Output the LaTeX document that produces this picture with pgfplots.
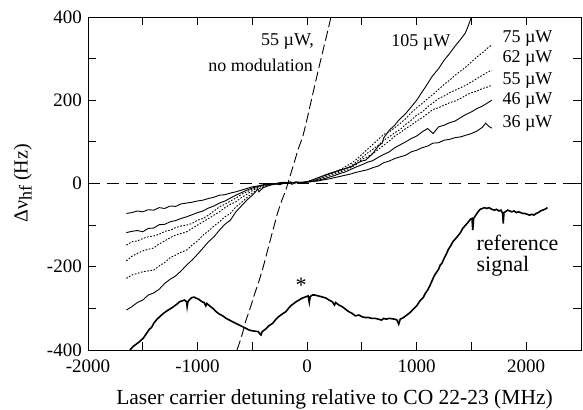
\documentclass[border=0pt]{standalone}
\usepackage{fontspec}
\setmainfont{Liberation Serif}
\usepackage{pgfplots}
\pgfplotsset{compat=1.18}
\usetikzlibrary{calc}
\begin{document}
\fontsize{18}{21}\selectfont
\begin{tikzpicture}
\begin{axis}[name=ax, scale only axis, width=493pt, height=333pt,
 xmin=-2000, xmax=2500, ymin=-400, ymax=400,
 xtick={-2000,-1000,0,1000,2000}, xticklabels={-2000,-1000,0,1000,2000},
 minor xtick={-1500,-500,500,1500,2500},
 ytick={-400,-200,0,200,400}, yticklabels={-400,-200,0,200,400},
 minor ytick={-300,-100,100,300},
 tick align=inside, major tick length=8pt, minor tick length=8pt,
 tick style={black, line width=0.8pt}, axis line style={line width=0.8pt},
 tick label style={font=\fontsize{19}{21}\selectfont},
 xticklabel style={yshift=-4pt},
 label style={font=\fontsize{21.5}{24}\selectfont},
 xlabel={Laser carrier detuning relative to CO 22-23 (MHz)},
 ylabel={Δν\raisebox{-0.45ex}{\fontsize{18}{20}\selectfont hf} (Hz)},
 xlabel style={yshift=-4pt},
 ylabel style={yshift=3pt, font=\fontsize{20}{22}\selectfont},
 clip=true]
% zero line
\addplot[black, line width=0.9pt, dash pattern=on 12pt off 7pt] coordinates {(-2000,0) (2500,0)};
% 36 uW
\addplot[black, line width=0.9pt] coordinates {
(-1650,-72) (-1600,-70) (-1550,-66) (-1500,-68) (-1450,-63) (-1400,-64) (-1350,-58) (-1300,-60) (-1250,-54) (-1200,-55) (-1150,-49) (-1100,-47) (-1050,-45) (-1000,-42) (-950,-40) (-900,-36) (-850,-33) (-800,-28) (-750,-27) (-700,-23) (-650,-20) (-600,-16) (-550,-12) (-500,-8) (-450,-6) (-400,-3) (-350,0) (-300,-1) (-250,2) (-200,3) (-150,1) (-100,4) (-50,2) (0,3) (50,5) (100,6) (150,9) (200,11) (250,14) (300,17) (350,20) (400,23) (450,27) (500,30) (550,33) (600,38) (650,42) (700,50) (750,54) (800,60) (850,64) (900,68) (950,76) (1000,80) (1050,86) (1100,90) (1150,97) (1200,98) (1250,104) (1300,106) (1350,110) (1400,112) (1450,116) (1500,120) (1550,126) (1600,135) (1630,145) (1660,137) (1685,133)};
% 46 uW
\addplot[black, line width=0.9pt] coordinates {
(-1650,-118) (-1600,-115) (-1550,-113) (-1500,-116) (-1450,-108) (-1400,-107) (-1350,-99) (-1300,-98) (-1250,-92) (-1200,-89) (-1150,-84) (-1100,-80) (-1050,-75) (-1000,-70) (-950,-66) (-900,-59) (-850,-54) (-800,-47) (-750,-42) (-700,-35) (-650,-28) (-600,-22) (-550,-16) (-500,-11) (-450,-7) (-400,-4) (-350,-2) (-300,0) (-250,-3) (-200,2) (-150,1) (-100,3) (-50,2) (0,4) (50,5) (100,8) (150,11) (200,15) (250,19) (300,24) (350,28) (400,34) (450,40) (500,45) (550,51) (600,55) (650,63) (700,70) (750,76) (800,86) (850,93) (900,100) (950,108) (1000,114) (1050,124) (1100,132) (1150,120) (1200,136) (1250,140) (1300,146) (1350,150) (1400,158) (1450,166) (1500,172) (1550,180) (1600,186) (1650,194) (1685,200)};
% 55 uW
\addplot[black, line width=0.9pt, dash pattern=on 1.6pt off 1.6pt] coordinates {
(-1650,-148) (-1600,-140) (-1550,-138) (-1500,-132) (-1450,-128) (-1400,-126) (-1350,-122) (-1300,-115) (-1250,-112) (-1200,-106) (-1150,-102) (-1100,-100) (-1050,-96) (-1000,-88) (-950,-84) (-900,-76) (-850,-66) (-800,-56) (-750,-50) (-700,-42) (-650,-35) (-600,-26) (-550,-20) (-500,-14) (-450,-9) (-400,-6) (-350,-3) (-300,-1) (-250,0) (-200,1) (-150,3) (-100,2) (-50,3) (0,4) (100,10) (200,18) (300,27) (400,38) (450,46) (500,58) (550,64) (600,72) (650,82) (700,92) (750,102) (800,114) (850,122) (900,132) (950,140) (1000,150) (1050,158) (1100,168) (1150,178) (1200,182) (1250,188) (1300,194) (1350,198) (1400,204) (1450,212) (1500,218) (1550,222) (1600,228) (1650,232) (1685,236)};
% 62 uW
\addplot[black, line width=0.9pt, dash pattern=on 1.6pt off 1.6pt] coordinates {
(-1650,-186) (-1600,-175) (-1550,-168) (-1500,-162) (-1450,-158) (-1400,-155) (-1350,-145) (-1300,-138) (-1250,-130) (-1200,-124) (-1150,-120) (-1100,-116) (-1050,-108) (-1000,-100) (-950,-92) (-900,-84) (-850,-76) (-800,-68) (-750,-58) (-700,-50) (-650,-44) (-600,-34) (-550,-26) (-500,-17) (-450,-10) (-400,-6) (-350,-3) (-300,-1) (-250,1) (-200,0) (-150,2) (-100,3) (-50,2) (0,4) (100,11) (200,20) (300,30) (400,42) (450,52) (500,62) (550,73) (600,82) (650,92) (700,104) (750,112) (800,122) (850,130) (900,142) (950,152) (1000,164) (1050,172) (1100,184) (1150,194) (1200,204) (1250,210) (1300,218) (1350,224) (1400,230) (1450,236) (1500,244) (1550,252) (1600,260) (1650,268) (1685,272)};
% 75 uW
\addplot[black, line width=0.9pt, dash pattern=on 1.6pt off 1.6pt] coordinates {
(-1650,-228) (-1600,-220) (-1550,-216) (-1500,-212) (-1450,-210) (-1400,-208) (-1350,-198) (-1300,-190) (-1250,-178) (-1200,-172) (-1150,-165) (-1100,-160) (-1050,-148) (-1000,-138) (-950,-124) (-900,-114) (-850,-102) (-800,-92) (-750,-80) (-700,-72) (-650,-56) (-600,-46) (-550,-34) (-500,-23) (-450,-14) (-400,-8) (-350,-4) (-300,-1) (-250,0) (-200,2) (-150,1) (-100,3) (-50,2) (0,4) (100,12) (200,22) (300,33) (400,48) (450,58) (500,70) (550,82) (600,94) (650,106) (700,118) (750,124) (800,134) (850,144) (900,156) (950,170) (1000,182) (1050,192) (1100,204) (1150,214) (1200,226) (1250,238) (1300,248) (1350,260) (1400,270) (1450,280) (1500,292) (1550,304) (1600,314) (1650,326) (1680,332)};
% 105 uW
\addplot[black, line width=0.9pt] coordinates {
(-1650,-304) (-1600,-296) (-1550,-286) (-1500,-280) (-1450,-268) (-1400,-263) (-1350,-254) (-1300,-240) (-1250,-230) (-1200,-222) (-1150,-210) (-1100,-196) (-1050,-184) (-1000,-170) (-950,-155) (-900,-140) (-850,-128) (-800,-112) (-750,-98) (-700,-88) (-650,-68) (-600,-54) (-550,-40) (-500,-28) (-470,-20) (-450,-12) (-440,-20) (-400,-10) (-350,-5) (-300,-2) (-250,0) (-200,1) (-150,4) (-140,-2) (-100,2) (-50,3) (0,4) (100,14) (200,24) (300,32) (400,40) (450,48) (500,54) (533,56) (600,72) (650,90) (685,97) (700,110) (750,128) (800,140) (836,152) (900,168) (950,184) (1000,200) (1050,220) (1100,240) (1138,256) (1200,276) (1250,296) (1300,312) (1350,330) (1400,346) (1443,361) (1470,378) (1500,400)};
% no modulation
\addplot[black, line width=0.9pt, dash pattern=on 10pt off 4pt] coordinates {
(-640,-400) (-620,-385) (-590,-360) (-560,-330) (-520,-300) (-480,-266) (-436,-232) (-400,-200) (-360,-160) (-320,-120) (-270,-71) (-230,-40) (-194,-16) (-160,14) (-118,50) (-80,84) (-40,112) (-9,145) (30,190) (70,236) (109,280) (150,325) (190,368) (218,400)};
% reference signal
\addplot[black, line width=1.6pt] coordinates {
(-1618,-400) (-1590,-392) (-1560,-386) (-1530,-380) (-1497,-372) (-1470,-362) (-1440,-350) (-1420,-346) (-1400,-336) (-1370,-326) (-1345,-320) (-1320,-314) (-1300,-310) (-1280,-306) (-1255,-302) (-1230,-298) (-1200,-292) (-1180,-288) (-1164,-284) (-1140,-282) (-1120,-280) (-1100,-284) (-1095,-296) (-1088,-284) (-1070,-278) (-1050,-274) (-1030,-273) (-1010,-276) (-990,-278) (-960,-284) (-940,-286) (-925,-294) (-915,-288) (-890,-294) (-860,-300) (-830,-308) (-800,-314) (-770,-318) (-740,-324) (-710,-328) (-682,-332) (-650,-336) (-620,-340) (-590,-344) (-558,-348) (-530,-352) (-500,-354) (-470,-355) (-445,-356) (-430,-362) (-421,-364) (-410,-356) (-380,-350) (-350,-342) (-315,-336) (-290,-328) (-260,-320) (-230,-314) (-194,-308) (-170,-300) (-150,-294) (-120,-288) (-100,-284) (-73,-280) (-50,-276) (-30,-274) (-10,-272) (10,-270) (20,-286) (28,-272) (48,-268) (70,-268) (100,-270) (130,-272) (170,-275) (200,-280) (230,-284) (250,-292) (260,-286) (290,-292) (321,-296) (350,-302) (380,-308) (410,-312) (440,-318) (473,-316) (500,-320) (530,-322) (560,-322) (590,-324) (624,-324) (650,-326) (680,-328) (700,-324) (720,-326) (750,-324) (776,-325) (800,-326) (820,-328) (836,-338) (850,-326) (880,-322) (910,-316) (940,-310) (970,-302) (1000,-294) (1030,-282) (1060,-274) (1079,-264) (1100,-256) (1120,-246) (1140,-234) (1160,-222) (1180,-214) (1200,-206) (1215,-196) (1230,-192) (1250,-180) (1270,-170) (1290,-158) (1310,-150) (1330,-140) (1350,-134) (1370,-128) (1382,-124) (1400,-118) (1420,-108) (1440,-102) (1460,-96) (1473,-92) (1490,-86) (1505,-84) (1512,-112) (1520,-84) (1540,-76) (1560,-68) (1580,-62) (1600,-60) (1620,-58) (1640,-60) (1660,-58) (1685,-62) (1710,-64) (1730,-62) (1750,-66) (1770,-64) (1785,-72) (1790,-96) (1797,-70) (1810,-68) (1830,-64) (1850,-66) (1867,-68) (1890,-66) (1910,-70) (1930,-68) (1950,-70) (1970,-72) (1988,-72) (2010,-74) (2030,-76) (2050,-74) (2070,-76) (2090,-72) (2110,-70) (2130,-66) (2150,-64) (2170,-62) (2194,-58)};
% labels
\node[anchor=east, inner sep=1pt] at (axis cs:73,340) {55 µW,};
\node[anchor=east, inner sep=1pt] at (axis cs:64,284) {no modulation};
\node[anchor=east, inner sep=1pt] at (axis cs:1318,340) {105 µW};
\node[anchor=west, inner sep=1pt] at (axis cs:1773,349) {75 µW};
\node[anchor=west, inner sep=1pt] at (axis cs:1773,301) {62 µW};
\node[anchor=west, inner sep=1pt] at (axis cs:1773,248) {55 µW};
\node[anchor=west, inner sep=1pt] at (axis cs:1773,200) {46 µW};
\node[anchor=west, inner sep=1pt] at (axis cs:1773,145) {36 µW};
\node[anchor=west, inner sep=1pt, font=\fontsize{22}{24}\selectfont] at (axis cs:1536,-143) {reference};
\node[anchor=west, inner sep=1pt, font=\fontsize{22}{24}\selectfont] at (axis cs:1536,-198) {signal};
\node[inner sep=0pt, font=\fontsize{22}{24}\selectfont] at (axis cs:-55,-245) {*};
\end{axis}
\pgfresetboundingbox
\path ($(ax.south west)+(-88pt,-60pt)$) rectangle ($(ax.north east)+(2pt,17pt)$);
\end{tikzpicture}
\end{document}
